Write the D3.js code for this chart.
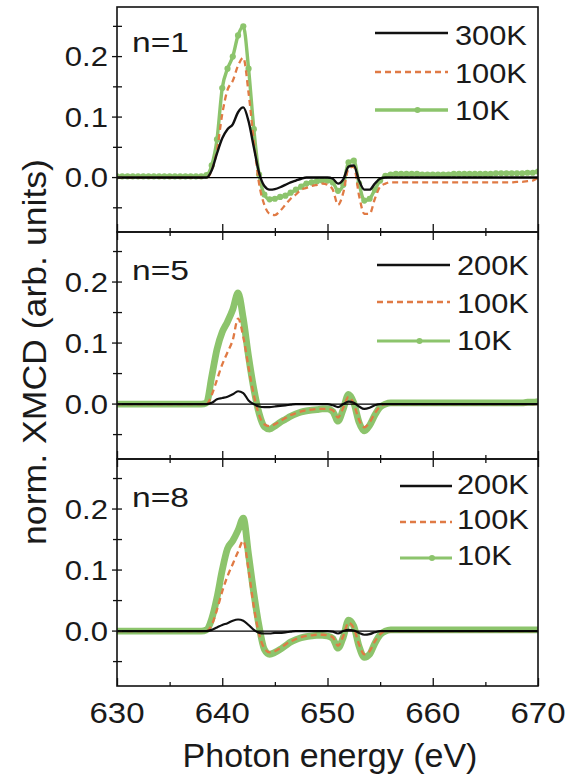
<!DOCTYPE html>
<html><head><meta charset="utf-8">
<script src="https://cdn.jsdelivr.net/npm/d3@7"></script>
<style>
html,body{margin:0;padding:0;background:#fff;}
text{font-family:"Liberation Sans",Arial,sans-serif;fill:#1a1a1a;}
</style></head>
<body><svg id="c" width="569" height="778"></svg>
<script>
// ---- data ----
const energy = [630,630.5,631,631.5,632,632.5,633,633.5,634,634.5,635,635.5,636,636.5,637,637.5,638,638.5,639,639.5,640,640.5,641,641.5,642,642.5,643,643.5,644,644.5,645,645.5,646,646.5,647,647.5,648,648.5,649,649.5,650,650.5,651,651.5,652,652.5,653,653.5,654,654.5,655,655.5,656,656.5,657,657.5,658,658.5,659,659.5,660,660.5,661,661.5,662,662.5,663,663.5,664,664.5,665,665.5,666,666.5,667,667.5,668,668.5,669,669.5,670];

const n1_300K = [0,0,0,0,0,0,0,0,0,0,
 0,0,0,0,0,0,0,0,0.012,0.040,
 0.065,0.080,0.088,0.108,0.116,0.093,0.050,0.008,-0.014,-0.020,
 -0.019,-0.016,-0.012,-0.008,-0.005,-0.002,0,0,0,0,
 0,-0.002,-0.010,-0.003,0.018,0.020,-0.005,-0.020,-0.020,-0.010,
 -0.002,0,0,0,0,0,0,0,0,0,
 0,0,0,0,0,0,0,0,0,0,
 0,0,0,0,0,0,0,0,0,0,
 0];
const n1_100K = [0,0,0,0,0,0,0,0,0,0,
 0,0,0,0,0,0,0,0,0.012,0.045,
 0.105,0.145,0.160,0.185,0.198,0.140,0.060,-0.010,-0.045,-0.060,
 -0.062,-0.055,-0.045,-0.035,-0.028,-0.020,-0.017,-0.014,-0.012,-0.010,
 -0.012,-0.020,-0.045,-0.025,0.015,0.018,-0.030,-0.060,-0.060,-0.035,
 -0.015,-0.010,-0.008,-0.008,-0.008,-0.008,-0.008,-0.008,-0.008,-0.008,
 -0.008,-0.008,-0.008,-0.008,-0.008,-0.008,-0.008,-0.008,-0.008,-0.008,
 -0.008,-0.008,-0.008,-0.008,-0.008,-0.008,-0.007,-0.007,-0.006,-0.005,
 0];
const n1_10K = [0.002,0.002,0.002,0.002,0.002,0.002,0.002,0.002,0.002,0.002,
 0.002,0.002,0.002,0.002,0.002,0.002,0.002,0.004,0.020,0.063,
 0.148,0.180,0.200,0.235,0.250,0.180,0.080,0.005,-0.028,-0.036,
 -0.035,-0.032,-0.030,-0.025,-0.020,-0.015,-0.010,-0.008,-0.006,-0.005,
 -0.005,-0.008,-0.022,-0.012,0.025,0.028,-0.010,-0.038,-0.035,-0.020,
 -0.005,0.003,0.005,0.006,0.006,0.006,0.006,0.006,0.005,0.005,
 0.005,0.005,0.005,0.005,0.006,0.006,0.006,0.006,0.006,0.006,
 0.006,0.006,0.007,0.007,0.007,0.007,0.007,0.007,0.008,0.008,
 0.010];

const n5_200K = [0,0,0,0,0,0,0,0,0,0,
 0,0,0,0,0,0,0,0,0.002,0.008,
 0.010,0.012,0.016,0.021,0.018,0.006,0,-0.004,-0.005,-0.005,
 -0.004,-0.003,-0.002,-0.001,0,0,0,0,0,0,
 0,-0.002,-0.005,0,0.004,0.002,-0.004,-0.008,-0.006,-0.002,
 0,0,0,0,0,0,0,0,0,0,
 0,0,0,0,0,0,0,0,0,0,
 0,0,0,0,0,0,0,0,0,0,
 0];
const n5_100K = [0,0,0,0,0,0,0,0,0,0,
 0,0,0,0,0,0,0,0,0.015,0.040,
 0.065,0.085,0.105,0.140,0.110,0.060,0.015,-0.018,-0.033,-0.036,
 -0.033,-0.028,-0.023,-0.018,-0.015,-0.012,-0.010,-0.009,-0.008,-0.008,
 -0.008,-0.010,-0.022,-0.006,0.012,0,-0.026,-0.038,-0.030,-0.015,
 -0.004,0,0,0,0,0,0,0,0,0,
 0,0,0,0,0,0,0,0,0,0,
 0,0,0,0,0,0,0,0,0,0,
 0];
const n5_10K = [0,0,0,0,0,0,0,0,0,0,
 0,0,0,0,0,0,0,0.002,0.045,0.090,
 0.118,0.135,0.155,0.182,0.140,0.078,0.025,-0.015,-0.037,-0.041,
 -0.036,-0.030,-0.025,-0.020,-0.016,-0.013,-0.011,-0.010,-0.009,-0.008,
 -0.008,-0.012,-0.028,-0.008,0.016,0.002,-0.030,-0.044,-0.035,-0.018,
 -0.005,0,0.002,0.002,0.002,0.002,0.002,0.002,0.002,0.002,
 0.002,0.002,0.002,0.002,0.002,0.002,0.002,0.002,0.002,0.002,
 0.002,0.002,0.002,0.002,0.002,0.002,0.002,0.002,0.003,0.003,
 0.004];

const n8_200K = [0,0,0,0,0,0,0,0,0,0,
 0,0,0,0,0,0,0,0,0.002,0.006,
 0.010,0.013,0.017,0.019,0.017,0.010,0.002,-0.003,-0.004,-0.004,
 -0.003,-0.003,-0.002,-0.001,0,0,0,0,0,0,
 0,-0.001,-0.004,0,0.002,0.001,-0.003,-0.006,-0.005,-0.002,
 0,0,0,0,0,0,0,0,0,0,
 0,0,0,0,0,0,0,0,0,0,
 0,0,0,0,0,0,0,0,0,0,
 0];
const n8_100K = [0,0,0,0,0,0,0,0,0,0,
 0,0,0,0,0,0,0,0,0.010,0.035,
 0.065,0.090,0.110,0.130,0.148,0.100,0.040,-0.005,-0.028,-0.035,
 -0.033,-0.028,-0.022,-0.017,-0.013,-0.010,-0.008,-0.007,-0.006,-0.006,
 -0.007,-0.010,-0.024,-0.008,0.014,0.005,-0.022,-0.038,-0.033,-0.017,
 -0.005,0,0,0,0,0,0,0,0,0,
 0,0,0,0,0,0,0,0,0,0,
 0,0,0,0,0,0,0,0,0,0,
 0];
const n8_10K = [0,0,0,0,0,0,0,0,0,0,
 0,0,0,0,0,0,0,0.002,0.020,0.055,
 0.100,0.135,0.148,0.165,0.185,0.125,0.062,0.008,-0.030,-0.038,
 -0.035,-0.030,-0.024,-0.018,-0.014,-0.011,-0.009,-0.008,-0.007,-0.007,
 -0.008,-0.012,-0.028,-0.010,0.018,0.008,-0.025,-0.043,-0.038,-0.020,
 -0.006,0,0.002,0.002,0.002,0.002,0.002,0.002,0.002,0.002,
 0.002,0.002,0.002,0.002,0.002,0.002,0.002,0.002,0.002,0.002,
 0.002,0.002,0.002,0.002,0.002,0.002,0.002,0.002,0.002,0.002,
 0.002];

const panelLabels = ["n=1","n=5","n=8"];
const legendNames = [["300K","100K","10K"],["200K","100K","10K"],["200K","100K","10K"]];
const panelSeries = [[n1_300K,n1_100K,n1_10K],[n5_200K,n5_100K,n5_10K],[n8_200K,n8_100K,n8_10K]];
const xTicksMajor = [630,640,650,660,670];
const xTicksMinor = [635,645,655,665];
const yTicksMajor = [0,0.1,0.2];
const yTicksMinor = [-0.05,0.05,0.15,0.25];
const yTickLabels = ["0.0","0.1","0.2"];

// ---- layout ----
const svg = d3.select("#c");
const X0 = 117, X1 = 538;
const panelTops = [7,232,459], panelBots = [232,459,686];
const BLACK = "#111", ORANGE = "#e07a44", GREEN = "#8cc46c";
const x = d3.scaleLinear().domain([630,670]).range([X0,X1]);
const legendLayout = [
  {x1:375,x2:448,ys:[33,72,110],tx:455,tb:[45,83,120]},
  {x1:377,x2:450,ys:[265,302,341],tx:457,tb:[275,313,350]},
  {x1:400,x2:452,ys:[486,522,558],tx:457,tb:[494,529,565]}
];
const labelBase = [52,280,507];

function stretchedText(g, tx, ty, str, size, sx, anchor){
  return g.append("text").attr("transform",`translate(${tx},${ty}) scale(${sx},1)`)
    .attr("font-size",size).attr("text-anchor",anchor||"start").text(str);
}

panelSeries.forEach((series, p) => {
  const top = panelTops[p], bot = panelBots[p];
  const y = d3.scaleLinear().domain([-0.09,0.282]).range([bot,top]);
  const g = svg.append("g");
  const clipId = "clip"+p;
  svg.append("clipPath").attr("id",clipId).append("rect")
    .attr("x",X0).attr("y",top).attr("width",X1-X0).attr("height",bot-top);
  const line = d3.line().x((d,i)=>x(energy[i])).y(d=>y(d)).curve(d3.curveMonotoneX);
  const cg = g.append("g").attr("clip-path",`url(#${clipId})`);
  // green 10K
  const gv = series[2];
  if (p === 0) {
    cg.append("path").attr("d",line(gv)).attr("fill","none").attr("stroke",GREEN).attr("stroke-width",3.4);
    cg.selectAll("circle.m").data(gv).join("circle").attr("class","m")
      .attr("cx",(d,i)=>x(energy[i])).attr("cy",d=>y(d)).attr("r",3.1).attr("fill",GREEN);
  } else {
    cg.append("path").attr("d",line(gv)).attr("fill","none").attr("stroke",GREEN).attr("stroke-width",6.8)
      .attr("stroke-linejoin","round");
  }
  // orange 100K
  cg.append("path").attr("d",line(series[1])).attr("fill","none").attr("stroke",ORANGE)
    .attr("stroke-width",2.3).attr("stroke-dasharray","6,4");
  // black
  cg.append("path").attr("d",line(series[0])).attr("fill","none").attr("stroke",BLACK)
    .attr("stroke-width",p===0?2.4:2.2);
  // zero line
  g.append("line").attr("x1",X0).attr("x2",X1).attr("y1",y(0)).attr("y2",y(0))
    .attr("stroke","#000").attr("stroke-width",1.2);

  // x ticks (bottom, inward)
  const xb = g.append("g").attr("transform",`translate(0,${bot})`)
    .call(d3.axisBottom(x).tickValues(xTicksMajor).tickSize(-8).tickFormat(""));
  xb.select(".domain").remove();
  const xbm = g.append("g").attr("transform",`translate(0,${bot})`)
    .call(d3.axisBottom(x).tickValues(xTicksMinor).tickSize(-4).tickFormat(""));
  xbm.select(".domain").remove();
  if (p > 0) {
    const xt = g.append("g").attr("transform",`translate(0,${top})`)
      .call(d3.axisTop(x).tickValues(xTicksMajor).tickSize(-8).tickFormat(""));
    xt.select(".domain").remove();
    const xtm = g.append("g").attr("transform",`translate(0,${top})`)
      .call(d3.axisTop(x).tickValues(xTicksMinor).tickSize(-4).tickFormat(""));
    xtm.select(".domain").remove();
  }
  g.selectAll(".tick line").attr("stroke","#111").attr("stroke-width",1.3);

  // y ticks crossing the left axis
  const yt = g.append("g");
  yt.selectAll("line.maj").data(yTicksMajor).join("line").attr("class","maj")
    .attr("x1",X0-5).attr("x2",X0+5).attr("y1",d=>y(d)).attr("y2",d=>y(d))
    .attr("stroke","#111").attr("stroke-width",1.3);
  yt.selectAll("line.min").data(yTicksMinor).join("line").attr("class","min")
    .attr("x1",X0-4).attr("x2",X0+5).attr("y1",d=>y(d)).attr("y2",d=>y(d))
    .attr("stroke","#111").attr("stroke-width",1.3);
  yTicksMajor.forEach((v,i)=>{
    stretchedText(g, X0-9, y(v)+9.5, yTickLabels[i], 27, 1.15, "end");
  });

  // frame
  g.append("rect").attr("x",X0).attr("y",top).attr("width",X1-X0).attr("height",bot-top)
    .attr("fill","none").attr("stroke","#111").attr("stroke-width",1.6);

  // panel label
  stretchedText(g, 132, labelBase[p], panelLabels[p], 28, 1.2, "start");

  // legend
  const L = legendLayout[p];
  const styles = [
    {c:BLACK,w:2.6,dash:null},
    {c:ORANGE,w:2.6,dash:"6,4"},
    {c:GREEN,w:p===0?3.4:2.8,dash:null}
  ];
  styles.forEach((s,k)=>{
    g.append("line").attr("x1",L.x1).attr("x2",L.x2).attr("y1",L.ys[k]).attr("y2",L.ys[k])
      .attr("stroke",s.c).attr("stroke-width",s.w).attr("stroke-dasharray",s.dash);
    if (k===2) g.append("circle").attr("cx",(L.x1+L.x2)/2+6).attr("cy",L.ys[k]).attr("r",3).attr("fill",GREEN);
    stretchedText(g, L.tx, L.tb[k], legendNames[p][k], 28, 1.1, "start");
  });
});

// x tick labels
const xl = svg.append("g");
xTicksMajor.forEach(v=>{
  stretchedText(xl, x(v), 723, String(v), 30, 1.1, "middle");
});
// axis titles
svg.append("text").attr("x",330).attr("y",767).attr("text-anchor","middle")
  .attr("font-size",34).text("Photon energy (eV)");
svg.append("text").attr("transform","translate(46,352) rotate(-90) scale(1.08,1)")
  .attr("text-anchor","middle").attr("font-size",33).text("norm. XMCD (arb. units)");
</script></body></html>
